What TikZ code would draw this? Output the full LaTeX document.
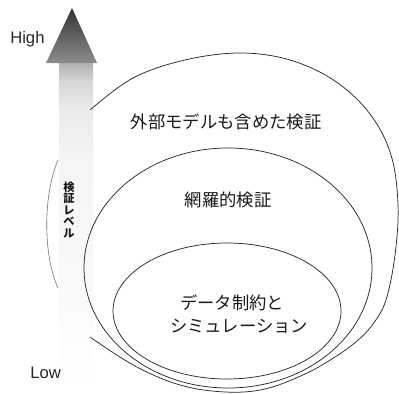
\documentclass[tikz,border=0pt]{standalone}
\usepackage{fontspec}
\setmainfont{Liberation Sans}
\newfontfamily\jp{Noto Sans CJK JP}
\usetikzlibrary{shapes.geometric}
\pgfdeclareverticalshading{shaftfade}{100bp}{color(0bp)=(white); color(25bp)=(white); color(40bp)=(black!2); color(60bp)=(black!4); color(68bp)=(black!8); color(72bp)=(black!16); color(75bp)=(black!32); color(100bp)=(black!32)}
\pgfdeclareverticalshading{headfade}{100bp}{color(0bp)=(black!45); color(25bp)=(black!45); color(50bp)=(black!62); color(75bp)=(black!80); color(100bp)=(black!80)}
\tikzset{
  ring/.style={draw=black!85, line width=0.55pt},
  ringnode/.style={ring, shape=ellipse, inner sep=0pt, outer sep=0pt},
  jlbl/.style={font=\jp\fontsize{13}{15}\selectfont, inner sep=0pt, text=black!90},
  vlbl/.style={font=\jp\bfseries\fontsize{8.4}{8.6}\selectfont, inner sep=0pt, align=center, text=black!90},
  elbl/.style={font=\fontsize{12.5}{14}\selectfont, inner sep=0pt, text=black!85},
  bracket/.style={draw=black!55, line width=0.45pt}
}
\begin{document}
\begin{tikzpicture}[x=0.75pt, y=-0.75pt]
\useasboundingbox (0,0) rectangle (399,393);
% gauge arrow
\path[shading=shaftfade] (59,62) rectangle (93,392);
\path[shading=headfade] (46,63) -- (72,8) -- (97,63) -- cycle;
\node[elbl, anchor=base west] (high) at (10,43) {High};
\node[elbl, anchor=base west] (low) at (30,378) {Low};
% bracket arc and vertical label
\coordinate (bt) at (58,160);
\coordinate (bb) at (58,288);
\draw[bracket] (bt) .. controls (43,195) and (43,255) .. (bb);
\node[vlbl] (lvl) at (69,210) {検\\証\\レ\\ベ\\ル};
% outer open ring
\coordinate (os) at (90,110);
\coordinate (oe) at (90,337);
\draw[ring] plot[smooth, tension=0.6] coordinates {
 (90,110) (133,78) (185,60) (240,53) (290,60) (335,81) (370,114) (391,155)
 (398,205) (395,255) (386,300) (373,324) (357,341) (335,357) (305,374)
 (265,389) (225,392) (180,385) (135,366) (90,337)};
% middle and inner rings
\node[ringnode, minimum width=216pt, minimum height=180pt] (mid) at (228,268) {};
\node[ringnode, minimum width=171pt, minimum height=102pt] (inn) at (227,311) {};
% labels
\node[jlbl] (t1) at (226,122) {外部モデルも含めた検証};
\node[jlbl] (t2) at (228,200) {網羅的検証};
\node[jlbl, anchor=west] (t3) at (180,303) {データ制約と};
\node[jlbl, anchor=west] (t4) at (170,326) {シミュレーション};
\end{tikzpicture}
\end{document}
